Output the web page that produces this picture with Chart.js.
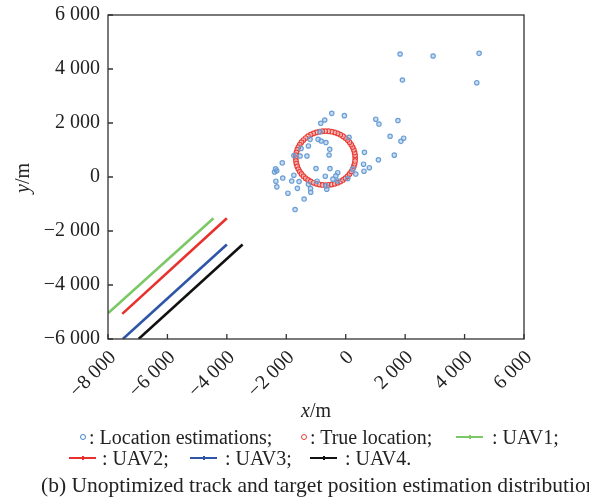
<!DOCTYPE html>
<html>
<head>
<meta charset="utf-8">
<script src="https://cdn.jsdelivr.net/npm/chart.js@4/dist/chart.umd.min.js"></script>
<style>
body{margin:0;background:#fff}
#wrap{position:relative;width:589px;height:499px;overflow:hidden;font-family:"Liberation Serif","Times New Roman",serif;color:#222}
#c{position:absolute;left:0;top:0}
.t{position:absolute;white-space:nowrap;font-size:20px;line-height:20px}
.dot{position:absolute;width:4px;height:4px;border-radius:50%;border:1px solid}
.ln{position:absolute;width:27px;height:1.5px}
.ln:after{content:"";position:absolute;left:13px;top:-1.5px;width:1.5px;height:4.5px;background:inherit}
</style>
</head>
<body>
<div id="wrap">
<canvas id="c" width="589" height="400"></canvas>
<div class="t" style="left:301px;top:400px"><i>x</i>/m</div>
<div class="t" style="left:7px;top:168px;transform:rotate(-90deg)"><i>y</i>/m</div>

<span class="dot" style="left:80px;top:434px;border-color:#3d86cf"></span>
<div class="t" style="left:89px;top:427px">: Location estimations;</div>
<span class="dot" style="left:301px;top:434px;border-color:#e8403a"></span>
<div class="t" style="left:310px;top:427px">: True location;</div>
<span class="ln" style="left:456px;top:436px;background:#7cc866"></span>
<div class="t" style="left:492px;top:427px">: UAV1;</div>

<span class="ln" style="left:69px;top:457px;background:#e8312d"></span>
<div class="t" style="left:102px;top:448px">: UAV2;</div>
<span class="ln" style="left:190px;top:457px;background:#2f55a8"></span>
<div class="t" style="left:225px;top:448px">: UAV3;</div>
<span class="ln" style="left:310px;top:457px;background:#111"></span>
<div class="t" style="left:345px;top:448px">: UAV4.</div>

<div class="t" style="left:41px;top:474px;font-size:21.5px;line-height:22px">(b) Unoptimized track and target position estimation distribution</div>
</div>
<script>

/* DATA */

const xTicks=[-8000,-6000,-4000,-2000,0,2000,4000,6000]
const yTicks=[-6000,-4000,-2000,0,2000,4000,6000]

// location estimations (blue circles)
const estX=[1830,2941,4490,1909,4411,-470,-44,-706,-840,1010,1118,1758,-860,113,1494,1950,1858,-1200,-930,-825,-665,-1255,-1502,-537,-1745,-1536,-1305,-560,630,1101,1635,-2135,-2360,-2321,-2395,-1000,-530,237,600,795,615,338,-268,-330,-688,-1745,-2119,-430,-268,68,-2350,-1816,-1570,-964,-1255,-660,-2318,-1626,-1185,-638,-1945,-1177,-1400,-1704]
const estY=[4555,4481,4580,3592,3493,2358,2272,2111,1988,2140,1962,2090,1672,1469,1510,1437,1320,1395,1395,1333,1276,1150,1055,1024,795,777,777,814,913,635,810,523,300,234,185,315,315,290,475,345,215,110,160,42,30,66,-38,-80,-150,-60,-155,-150,-170,-155,-272,-330,-365,-421,-428,-452,-600,-565,-817,-1205]

// true location ring (red circles)
const trueX=[320,314,298,271,233,186,129,63,-11,-92,-180,-273,-371,-472,-576,-680,-785,-888,-989,-1087,-1180,-1268,-1349,-1423,-1489,-1546,-1594,-1631,-1658,-1675,-1680,-1675,-1658,-1631,-1594,-1546,-1489,-1423,-1349,-1268,-1180,-1087,-989,-888,-785,-680,-576,-472,-371,-273,-180,-92,-11,63,129,186,233,271,298,314]
const trueY=[700,805,908,1009,1107,1200,1288,1369,1443,1509,1566,1614,1651,1678,1695,1700,1695,1678,1651,1614,1566,1509,1443,1369,1288,1200,1107,1009,908,805,700,595,492,391,293,200,112,31,-43,-109,-166,-214,-251,-278,-295,-300,-295,-278,-251,-214,-166,-109,-43,31,112,200,293,391,492,595]

// UAV tracks
const uav1X=[-8000,-4450], uav1Y=[-5050,-1530]
const uav2X=[-7520,-4000], uav2Y=[-5070,-1530]
const uav3X=[-7500,-4000], uav3Y=[-6000,-2500]
const uav4X=[-6970,-3470], uav4Y=[-6000,-2500]


function pts(xs,ys){
return xs.map((x,i)=>({x:x,y:ys[i]}))
}

function fmt(v){
const s=Math.abs(v).toString().replace(/\B(?=(\d{3})+(?!\d))/g," ")
return (v<0?"\u2212":"")+s
}

function track(xs,ys,color){
return {type:"line",data:pts(xs,ys),borderColor:color,borderWidth:2.6,pointRadius:0,showLine:true,fill:false}
}


/* FRAME + INNER TICKS */

const frame={
id:"frame",
afterDraw(chart){
const {ctx,chartArea:a,scales:{x,y}}=chart
ctx.save()
ctx.strokeStyle="#333"
ctx.lineWidth=1.3
ctx.strokeRect(a.left,a.top,a.right-a.left,a.bottom-a.top)
ctx.beginPath()
x.ticks.forEach(t=>{
const p=x.getPixelForValue(t.value)
ctx.moveTo(p,a.bottom);ctx.lineTo(p,a.bottom-5)
})
y.ticks.forEach(t=>{
const p=y.getPixelForValue(t.value)
ctx.moveTo(a.left,p);ctx.lineTo(a.left+5,p)
})
ctx.stroke()
ctx.restore()
}
}


/* CHART */

const tickFont={family:"'Liberation Serif','Times New Roman',serif",size:20}

new Chart(document.getElementById("c"),{
type:"scatter",
data:{
datasets:[
{data:pts(estX,estY),pointRadius:2.2,borderWidth:1.2,borderColor:"#6a9fd6",backgroundColor:"rgba(106,159,214,0.35)"},
{data:pts(trueX,trueY),pointRadius:2.3,borderWidth:1.2,borderColor:"#e8403a",backgroundColor:"rgba(255,255,255,0.5)"},
track(uav1X,uav1Y,"#7cc866"),
track(uav2X,uav2Y,"#e8312d"),
track(uav3X,uav3Y,"#2f55a8"),
track(uav4X,uav4Y,"#111")
]
},
options:{
responsive:false,
animation:false,
layout:{padding:{left:0,right:65,top:15,bottom:0}},
plugins:{legend:{display:false},tooltip:{enabled:false}},
scales:{
x:{
type:"linear",min:-8000,max:6000,
afterBuildTicks:s=>{s.ticks=xTicks.map(v=>({value:v}))},
afterFit:s=>{s.height=61},
grid:{display:false},border:{display:false},
ticks:{font:tickFont,color:"#222",minRotation:45,maxRotation:45,padding:-1,labelOffset:5,callback:fmt}
},
y:{
type:"linear",min:-6000,max:6000,
afterBuildTicks:s=>{s.ticks=yTicks.map(v=>({value:v}))},
afterFit:s=>{s.width=108},
grid:{display:false},border:{display:false},
ticks:{font:tickFont,color:"#222",padding:0,callback:fmt}
}
}
},
plugins:[frame]
})

</script>
</body>
</html>
